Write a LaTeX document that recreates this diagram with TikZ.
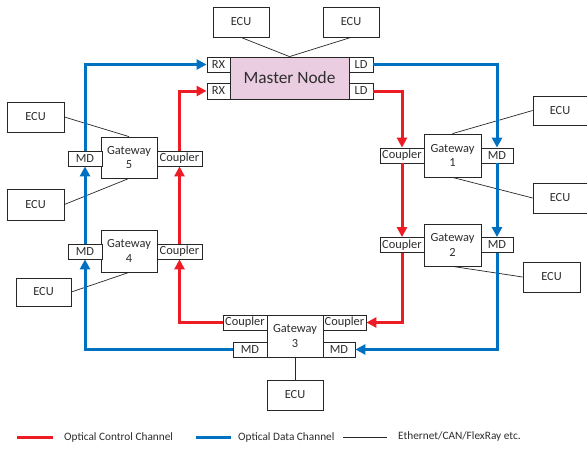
\documentclass[tikz,border=0pt]{standalone}
\usepackage{fontspec}
\setmainfont{Carlito}
\usetikzlibrary{arrows.meta}
\definecolor{cred}{RGB}{237,28,36}
\definecolor{cblue}{RGB}{0,112,192}
\definecolor{cpink}{RGB}{235,205,225}
\definecolor{ctext}{RGB}{45,45,45}
\tikzset{
  box/.style={draw=black!85, line width=0.8pt, fill=white, inner sep=0pt, text=ctext, font=\fontsize{12.4}{14.5}\selectfont, align=center},
  redline/.style={draw=cred, line width=3pt},
  blueline/.style={draw=cblue, line width=3pt},
  arr/.style={-{Triangle[length=10pt,width=10pt]}},
  thin/.style={draw=black!85, line width=0.7pt},
  legtext/.style={anchor=west, text=ctext, font=\fontsize{11.3}{13}\selectfont, inner sep=0pt}
}
\begin{document}
\begin{tikzpicture}[x=1pt,y=-1pt]
\useasboundingbox (0,0) rectangle (587,450);
% Master node and ports
\node[box, fill=cpink, minimum width=119pt, minimum height=42pt, font=\fontsize{17.3}{20}\selectfont] (master) at (289.5,78) {Master Node};
\node[box, minimum width=23pt, minimum height=15pt] (rx1) at (218.5,64.5) {RX};
\node[box, minimum width=23pt, minimum height=16pt] (rx2) at (218.5,91) {RX};
\node[box, minimum width=24pt, minimum height=15pt] (ld1) at (361,64.5) {LD};
\node[box, minimum width=24pt, minimum height=16pt] (ld2) at (361,91) {LD};
% Gateways
\node[box, minimum width=56pt, minimum height=41pt] (g5) at (129,157.5) {Gateway\\5};
\node[box, minimum width=56pt, minimum height=42pt] (g4) at (129,251) {Gateway\\4};
\node[box, minimum width=57pt, minimum height=43pt] (g1) at (452.5,155.5) {Gateway\\1};
\node[box, minimum width=57pt, minimum height=42pt] (g2) at (452.5,245) {Gateway\\2};
\node[box, minimum width=56pt, minimum height=42pt] (g3) at (295,336) {Gateway\\3};
% ports
\node[box, minimum width=34pt, minimum height=15pt] (md5) at (85,158.5) {MD};
\node[box, minimum width=45pt, minimum height=15pt] (c5) at (179.5,158.5) {Coupler};
\node[box, minimum width=34pt, minimum height=15pt] (md4) at (85,251.5) {MD};
\node[box, minimum width=45pt, minimum height=15pt] (c4) at (179.5,251.5) {Coupler};
\node[box, minimum width=44pt, minimum height=15pt] (c1) at (402,155.5) {Coupler};
\node[box, minimum width=32pt, minimum height=15pt] (md1) at (497,155.5) {MD};
\node[box, minimum width=44pt, minimum height=15pt] (c2) at (402,245) {Coupler};
\node[box, minimum width=32pt, minimum height=15pt] (md2) at (497,245) {MD};
\node[box, minimum width=44pt, minimum height=15pt] (c3l) at (245,322.5) {Coupler};
\node[box, minimum width=43pt, minimum height=15pt] (c3r) at (344.5,322.5) {Coupler};
\node[box, minimum width=34pt, minimum height=15pt] (md3l) at (250,349.5) {MD};
\node[box, minimum width=32pt, minimum height=15pt] (md3r) at (339,349.5) {MD};
% ECUs
\node[box, minimum width=56pt, minimum height=30pt] (ecuA) at (241,22) {ECU};
\node[box, minimum width=56pt, minimum height=30pt] (ecuB) at (351,22) {ECU};
\node[box, minimum width=57pt, minimum height=30pt] (e5a) at (35.5,117) {ECU};
\node[box, minimum width=57pt, minimum height=31pt] (e5b) at (35.5,204.5) {ECU};
\node[box, minimum width=55pt, minimum height=28pt] (e4) at (43.5,292) {ECU};
\node[box, minimum width=54pt, minimum height=29pt] (e1a) at (560,110.5) {ECU};
\node[box, minimum width=54pt, minimum height=30pt] (e1b) at (560,198) {ECU};
\node[box, minimum width=57pt, minimum height=30pt] (e2) at (551.5,277) {ECU};
\node[box, minimum width=56pt, minimum height=30pt] (e3) at (295,395) {ECU};
% thin links
\draw[thin] (ecuA.south) -- (master.north);
\draw[thin] (ecuB.south) -- (master.north);
\draw[thin] (e5a.east) -- (g5.north);
\draw[thin] (e5b.east) -- (g5.south);
\draw[thin] (e4.east) -- (g4.south);
\draw[thin] (e1a.west) -- (g1.north);
\draw[thin] (g1.south) -- (e1b.west);
\draw[thin] (g2.south) -- (e2.west);
\draw[thin] (g3.south) -- (e3.north);
% red control channel
\draw[redline, arr] (ld2.east) -| (c1.north);
\draw[redline, arr] (c1.south) -- (c2.north);
\draw[redline, arr] (c2.south) |- (c3r.east);
\draw[redline, arr] (c3l.west) -| (c4.south);
\draw[redline, arr] (c4.north) -- (c5.south);
\draw[redline, arr] (c5.north) |- (rx2.west);
% blue data channel
\draw[blueline, arr] (ld1.east) -| (md1.north);
\draw[blueline, arr] (md1.south) -- (md2.north);
\draw[blueline, arr] (md2.south) |- (md3r.east);
\draw[blueline, arr] (md3l.west) -| (md4.south);
\draw[blueline, arr] (md4.north) -- (md5.south);
\draw[blueline, arr] (md5.north) |- (rx1.west);
% legend
\coordinate (l1a) at (17,437); \coordinate (l1b) at (53,437);
\coordinate (l2a) at (196,437); \coordinate (l2b) at (231,437);
\coordinate (l3a) at (343,437); \coordinate (l3b) at (387,437);
\draw[redline] (l1a) -- (l1b);
\draw[blueline] (l2a) -- (l2b);
\draw[thin] (l3a) -- (l3b);
\node[legtext] (t1) at (64,437) {Optical Control Channel};
\node[legtext] (t2) at (238,437) {Optical Data Channel};
\node[legtext] (t3) at (398,436) {Ethernet/CAN/FlexRay etc.};
\end{tikzpicture}
\end{document}
